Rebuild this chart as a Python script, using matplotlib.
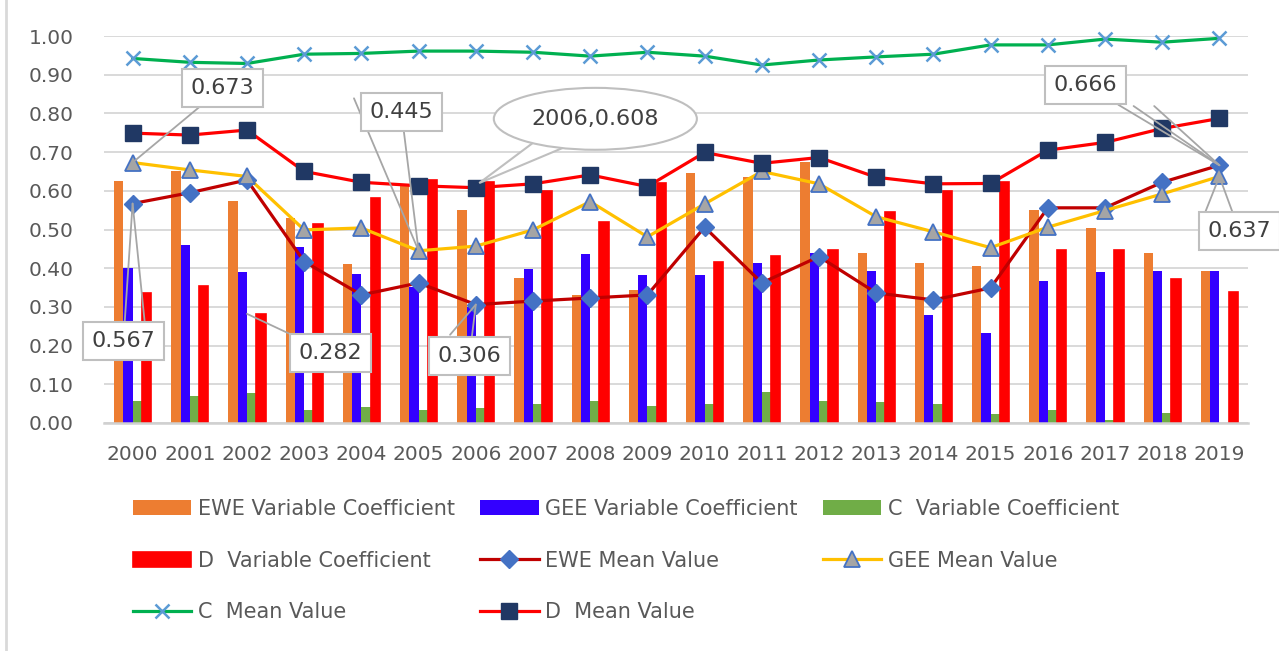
import numpy as np
import matplotlib
matplotlib.use("Agg")
import matplotlib.pyplot as plt
from matplotlib.lines import Line2D
from matplotlib.patches import Ellipse, Polygon

# ---- data ----
years = ["2000", "2001", "2002", "2003", "2004", "2005", "2006", "2007", "2008", "2009",
         "2010", "2011", "2012", "2013", "2014", "2015", "2016", "2017", "2018", "2019"]

ewe_coef = [0.625, 0.651, 0.574, 0.531, 0.411, 0.615, 0.550, 0.375, 0.330, 0.344,
            0.647, 0.636, 0.675, 0.440, 0.413, 0.406, 0.550, 0.504, 0.440, 0.394]
gee_coef = [0.400, 0.460, 0.390, 0.456, 0.385, 0.352, 0.300, 0.398, 0.437, 0.382,
            0.382, 0.413, 0.440, 0.394, 0.280, 0.233, 0.367, 0.390, 0.394, 0.394]
c_coef = [0.057, 0.070, 0.077, 0.034, 0.042, 0.034, 0.040, 0.049, 0.057, 0.045,
          0.049, 0.081, 0.057, 0.054, 0.050, 0.023, 0.034, 0.008, 0.027, 0.000]
d_coef = [0.336, 0.355, 0.282, 0.514, 0.581, 0.628, 0.624, 0.600, 0.519, 0.620,
          0.416, 0.431, 0.448, 0.545, 0.600, 0.622, 0.448, 0.448, 0.373, 0.338]

ewe_mean = [0.567, 0.595, 0.628, 0.417, 0.331, 0.362, 0.306, 0.315, 0.323, 0.331,
            0.506, 0.362, 0.430, 0.336, 0.318, 0.349, 0.556, 0.556, 0.622, 0.666]
gee_mean = [0.673, 0.654, 0.637, 0.499, 0.504, 0.445, 0.457, 0.499, 0.572, 0.481,
            0.566, 0.650, 0.618, 0.533, 0.494, 0.453, 0.506, 0.549, 0.592, 0.637]
c_mean = [0.942, 0.932, 0.929, 0.953, 0.955, 0.961, 0.961, 0.958, 0.948, 0.958,
          0.948, 0.925, 0.938, 0.946, 0.953, 0.977, 0.977, 0.992, 0.984, 0.994]
d_mean = [0.749, 0.744, 0.757, 0.650, 0.622, 0.613, 0.608, 0.618, 0.641, 0.611,
          0.699, 0.671, 0.686, 0.635, 0.618, 0.619, 0.705, 0.725, 0.761, 0.787]

plt.rcParams['font.family'] = ['DejaVu Sans']
txt_col = '#595959'
lab_col = '#404040'
grid_col = '#d9d9d9'
edge_col = '#bfbfbf'

fig = plt.figure(figsize=(12.79, 6.51), dpi=100)
ax = fig.add_axes([104/1279, 1 - 423/651, (1248 - 104)/1279, (423 - 36)/651])

x = np.arange(len(years))
w = 0.162
b1 = ax.bar(x - 1.5*w, ewe_coef, w, color='#ed7d31', zorder=2, label='EWE Variable Coefficient')
b2 = ax.bar(x - 0.5*w, gee_coef, w, color='#3300ff', zorder=2, label='GEE Variable Coefficient')
b3 = ax.bar(x + 0.5*w, c_coef, w, color='#70ad47', zorder=2, label='C  Variable Coefficient')
b4 = ax.bar(x + 1.5*w, d_coef, w, color='#ff0000', edgecolor='#ff0000', lw=1.2, zorder=2,
            label='D  Variable Coefficient')

l1, = ax.plot(x, ewe_mean, color='#c00000', lw=2.3, marker='D', ms=9, mfc='#4472c4', mec='#4472c4',
              zorder=4, clip_on=False, label='EWE Mean Value')
l2, = ax.plot(x, gee_mean, color='#ffc000', lw=2.3, marker='^', ms=12, mfc='#a5a5a5', mec='#4472c4',
              mew=1.3, zorder=4, clip_on=False, label='GEE Mean Value')
l3, = ax.plot(x, c_mean, color='#00b050', lw=2.3, marker='x', ms=10, mec='#5b9bd5', mew=1.8,
              zorder=4, clip_on=False, label='C  Mean Value')
l4, = ax.plot(x, d_mean, color='#ff0000', lw=2.3, marker='s', ms=11, mfc='#203864', mec='#203864',
              zorder=4, clip_on=False, label='D  Mean Value')

ax.set_xlim(-0.5, 19.5)
ax.set_ylim(0, 1.0)
ax.set_yticks(np.arange(0, 1.01, 0.1))
ax.set_yticklabels([f"{v:.2f}" for v in np.arange(0, 1.01, 0.1)])
ax.set_xticks(x)
ax.set_xticklabels(years)
ax.tick_params(axis='both', length=0, labelsize=14.5, labelcolor=txt_col)
ax.tick_params(axis='y', pad=22)
ax.tick_params(axis='x', pad=16)
ax.yaxis.grid(True, color=grid_col, lw=1.4, zorder=0)
ax.set_axisbelow(True)
for s in ['top', 'right', 'left']:
    ax.spines[s].set_visible(False)
ax.spines['bottom'].set_color('#d0d0d0')
ax.spines['bottom'].set_linewidth(1.8)

# ---- data labels with leader lines ----
box = dict(boxstyle='square,pad=0.4', fc='white', ec=edge_col, lw=1.5)
lead = dict(arrowstyle='-', color='#a6a6a6', lw=1.3, shrinkA=0, shrinkB=0)
labels = [
    ("0.673", gee_mean, 0, (1.57, 0.866)),
    ("0.445", gee_mean, 5, (4.70, 0.804)),
    ("0.567", ewe_mean, 0, (-0.16, 0.212)),
    ("0.282", d_coef, 2, (3.46, 0.181)),
    ("0.306", ewe_mean, 6, (5.89, 0.173)),
    ("0.666", ewe_mean, 19, (16.66, 0.873)),
    ("0.637", gee_mean, 19, (19.35, 0.496)),
]
for text, series, i, pos in labels:
    ax.annotate(text, xy=(i, series[i]), xytext=pos, textcoords='data', ha='center', va='center',
                fontsize=16, color=lab_col, bbox=box, arrowprops=lead, zorder=6,
                annotation_clip=False)

# extra leader strokes as in the reference
extra = [
    (gee_mean, 5, (3.87, 0.839)),
    (ewe_mean, 0, (0.21, 0.263)),
    (ewe_mean, 6, (5.55, 0.228)),
    (ewe_mean, 19, (17.50, 0.819)),
    (ewe_mean, 19, (17.86, 0.819)),
    (gee_mean, 19, (18.71, 0.529)),
]
for series, i, pos in extra:
    ax.annotate("", xy=(i, series[i]), xytext=pos, textcoords='data', arrowprops=lead,
                zorder=5, annotation_clip=False)

# callout bubble pointing to D mean 2006
cx, cy = 8.09, 0.786
tail = Polygon([(7.10, 0.735), (7.70, 0.722), (6 + 0.06, d_mean[6] + 0.012)], closed=True,
               fc='white', ec=edge_col, lw=1.5, zorder=6)
ax.add_patch(tail)
ax.add_patch(Ellipse((cx, cy), 3.55, 0.16, fc='white', ec=edge_col, lw=1.5, zorder=6.1))
ax.add_patch(Polygon([(7.16, 0.728), (7.64, 0.718), (7.40, 0.735)], closed=True,
                     fc='white', ec='none', zorder=6.2))
ax.text(cx, cy, "2006,0.608", ha='center', va='center', fontsize=16, color=lab_col, zorder=6.3)

# ---- legend ----
handles = [b1, b4, l3, b2, l1, l4, b3, l2]
fig.legend(handles, [h.get_label() for h in handles], ncol=3, loc='upper left',
           bbox_to_anchor=(133/1279, 1 - 499/651), frameon=False, fontsize=15,
           labelcolor=txt_col, borderpad=0, borderaxespad=0, handlelength=2.8,
           handletextpad=0.3, columnspacing=1.23, labelspacing=1.52, numpoints=1)

fig.add_artist(Line2D([6/1279, 6/1279], [0, 1], transform=fig.transFigure, color=grid_col, lw=2))

fig.savefig("out.png", dpi=100)
